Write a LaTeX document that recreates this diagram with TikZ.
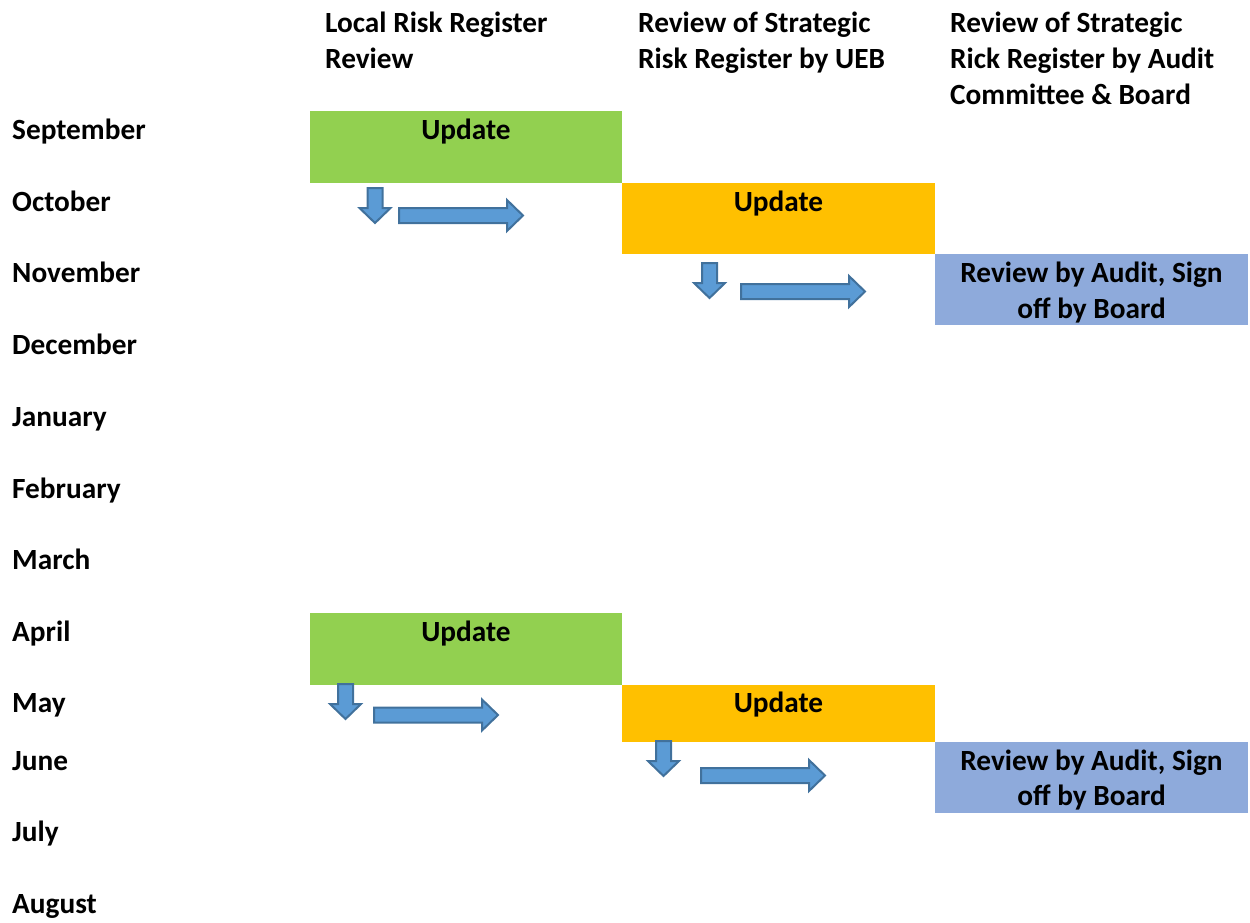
\documentclass[tikz,border=0pt]{standalone}
\usepackage{fontspec}
\setmainfont{Carlito}
\definecolor{cgreen}{HTML}{92D050}
\definecolor{corange}{HTML}{FFC000}
\definecolor{cblue}{HTML}{8EAADB}
\definecolor{arrfill}{HTML}{5B9BD5}
\definecolor{arrline}{HTML}{41719C}
\tikzset{
  txt/.style={inner sep=0pt, font=\fontsize{29.3}{36}\selectfont\bfseries, anchor=base west},
  ctxt/.style={txt, anchor=base},
  boxst/.style={inner sep=0pt, anchor=north west},
  blockarrow/.style={fill=arrfill, draw=arrline, line width=2pt, line join=miter}
}
\newcommand\dnarrow[2]{% center x, top y
  \draw[blockarrow] (#1-7.5,#2) -- (#1+7.5,#2) -- (#1+7.5,#2+20) -- (#1+15.5,#2+20) -- (#1,#2+35) -- (#1-15.5,#2+20) -- (#1-7.5,#2+20) -- cycle;}
\newcommand\rtarrow[2]{% left x, center y
  \draw[blockarrow] (#1,#2-7.5) -- (#1+108,#2-7.5) -- (#1+108,#2-15.5) -- (#1+124,#2) -- (#1+108,#2+15.5) -- (#1+108,#2+7.5) -- (#1,#2+7.5) -- cycle;}
\begin{document}
\begin{tikzpicture}[x=1pt,y=-1pt]
\useasboundingbox (0,0) rectangle (1250,922);
% headers
\node[txt] (h1a) at (325,32) {Local Risk Register};
\node[txt] (h1b) at (325,68) {Review};
\node[txt] (h2a) at (638,32) {Review of Strategic};
\node[txt] (h2b) at (638,68) {Risk Register by UEB};
\node[txt] (h3a) at (950,32) {Review of Strategic};
\node[txt] (h3b) at (950,68) {Rick Register by Audit};
\node[txt] (h3c) at (950,104) {Committee \& Board};
% months
\node[txt] (m1) at (12,139) {September};
\node[txt] (m2) at (12,211) {October};
\node[txt] (m3) at (12,282) {November};
\node[txt] (m4) at (12,354) {December};
\node[txt] (m5) at (12,426) {January};
\node[txt] (m6) at (12,498) {February};
\node[txt] (m7) at (12,569) {March};
\node[txt] (m8) at (12,641) {April};
\node[txt] (m9) at (12,712) {May};
\node[txt] (m10) at (12,770) {June};
\node[txt] (m11) at (12,841) {July};
\node[txt] (m12) at (12,913) {August};
% boxes
\node[boxst, fill=cgreen, minimum width=312pt, minimum height=72pt] (g1) at (310,111) {};
\node[boxst, fill=corange, minimum width=313pt, minimum height=71pt] (o1) at (622,183) {};
\node[boxst, fill=cblue, minimum width=313pt, minimum height=71pt] (b1) at (935,254) {};
\node[boxst, fill=cgreen, minimum width=312pt, minimum height=72pt] (g2) at (310,613) {};
\node[boxst, fill=corange, minimum width=313pt, minimum height=57pt] (o2) at (622,685) {};
\node[boxst, fill=cblue, minimum width=313pt, minimum height=71pt] (b2) at (935,742) {};
\node[ctxt] (g1t) at (466,139) {Update};
\node[ctxt] (o1t) at (778.5,211) {Update};
\node[ctxt] (b1t) at (1091.5,282) {Review by Audit, Sign};
\node[ctxt] (b1u) at (1091.5,318) {off by Board};
\node[ctxt] (g2t) at (466,641) {Update};
\node[ctxt] (o2t) at (778.5,712) {Update};
\node[ctxt] (b2t) at (1091.5,770) {Review by Audit, Sign};
\node[ctxt] (b2u) at (1091.5,805) {off by Board};
% arrows
\dnarrow{375}{188}
\rtarrow{399}{215.5}
\dnarrow{709.5}{263}
\rtarrow{741}{291.5}
\dnarrow{345.5}{684}
\rtarrow{374}{715}
\dnarrow{663.5}{741}
\rtarrow{701}{775.5}
\end{tikzpicture}
\end{document}
